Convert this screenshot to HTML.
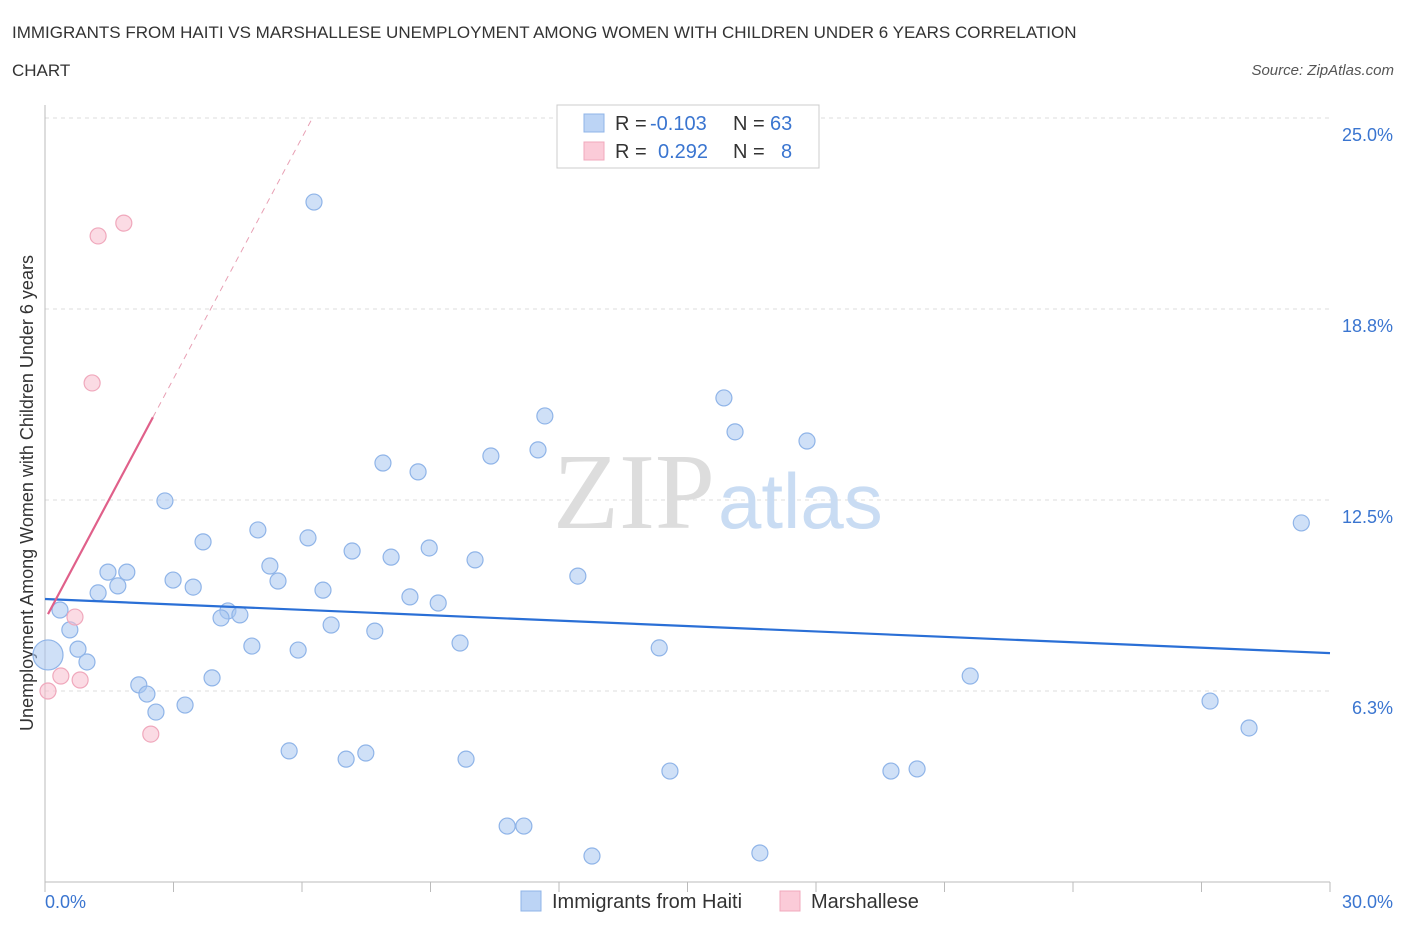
<!DOCTYPE html>
<html><head><meta charset="utf-8"><style>
body{margin:0;background:#fff;font-family:"Liberation Sans",sans-serif;}
#wrap{position:relative;width:1406px;height:930px;overflow:hidden;}
.t{position:absolute;color:#333;font-size:17px;}
</style></head><body>
<div id="wrap">
<div class="t" style="left:12px;top:23px;">IMMIGRANTS FROM HAITI VS MARSHALLESE UNEMPLOYMENT AMONG WOMEN WITH CHILDREN UNDER 6 YEARS CORRELATION</div>
<div class="t" style="left:12px;top:61px;">CHART</div>
<div class="t" style="right:12px;top:62px;font-size:15px;font-style:italic;color:#555;">Source: ZipAtlas.com</div>
<svg id="svg" width="1406" height="930" style="position:absolute;left:0;top:0"></svg>
</div>
<script>
const xTicks=[0,3,6,9,12,15,18,21,24,27,30];
const yTicks=[6.25,12.5,18.75,25];
const yTickLabels=["6.3%","12.5%","18.8%","25.0%"];
const haitiX=[6.28,11.67,15.85,16.11,17.79,11.51,10.41,7.89,8.71,2.80,29.33,4.97,3.69,6.14,8.97,7.17,8.08,10.04,1.47,1.91,5.25,12.44,2.99,3.46,5.44,1.24,1.70,6.49,8.52,9.18,0.35,4.27,4.55,4.11,6.68,7.70,0.58,9.69,4.83,5.91,14.34,0.77,0.07,0.98,3.90,21.60,2.19,2.38,3.27,2.59,27.20,28.11,5.70,7.49,7.03,9.83,14.59,19.75,20.36,10.79,11.18,12.77,16.69];
const haitiY=[22.25,15.25,15.84,14.73,14.43,14.14,13.94,13.71,13.42,12.47,11.75,11.52,11.13,11.26,10.93,10.83,10.63,10.54,10.14,10.14,10.34,10.01,9.88,9.65,9.85,9.46,9.69,9.55,9.33,9.13,8.90,8.87,8.74,8.64,8.41,8.21,8.25,7.82,7.72,7.59,7.66,7.62,7.43,7.20,6.68,6.74,6.45,6.15,5.79,5.56,5.92,5.04,4.29,4.22,4.02,4.02,3.63,3.63,3.70,1.83,1.83,0.85,0.95];
const marshX=[1.84,1.24,1.10,0.70,0.37,0.82,0.07,2.47];
const marshY=[21.56,21.14,16.33,8.67,6.74,6.61,6.25,4.84];
const haitiTrend=[9.26,7.49];
const marshIntercept=8.58, marshSlope=2.63;
const X=v=>45+v*(1285/30), Y=v=>882-v*30.56;
const svg=document.getElementById('svg');
function mk(tag,attrs,name){const e=document.createElementNS('http://www.w3.org/2000/svg',tag);for(const k in attrs)e.setAttribute(k,attrs[k]);


svg.appendChild(e);return e;}
yTicks.forEach((t,i)=>{mk('line',{x1:45,x2:1330,y1:Y(t),y2:Y(t),stroke:'#ddd','stroke-dasharray':'4,4'},'gridline');
const tx=mk('text',{x:1393,y:Y(t)+23,'text-anchor':'end',fill:'#3a75d0','font-size':18},'y-tick-label');tx.textContent=yTickLabels[i];});
mk('line',{x1:45,x2:1330,y1:Y(0),y2:Y(0),stroke:'#bbb'},'x-axis');
mk('line',{x1:45,x2:45,y1:105,y2:Y(0),stroke:'#bbb'},'y-axis');
xTicks.forEach(t=>mk('line',{x1:X(t),x2:X(t),y1:Y(0),y2:Y(0)+10,stroke:'#bbb'},'x-tick'));
let tl=mk('text',{x:45,y:908,fill:'#3a75d0','font-size':18},'x-min-label');tl.textContent='0.0%';
tl=mk('text',{x:1393,y:908,'text-anchor':'end',fill:'#3a75d0','font-size':18},'x-max-label');tl.textContent='30.0%';
tl=mk('text',{x:553,y:528,fill:'#ddd','font-size':108,'font-family':'Liberation Serif'},'watermark-zip');tl.textContent='ZIP';
tl=mk('text',{x:718,y:528,fill:'#c9dcf3','font-size':78},'watermark-atlas');tl.textContent='atlas';
tl=mk('text',{x:0,y:0,fill:'#333','font-size':18,transform:'translate(33,493) rotate(-90)','text-anchor':'middle'},'y-axis-title');tl.textContent='Unemployment Among Women with Children Under 6 years';
haitiX.forEach((x,i)=>mk('circle',{cx:X(x),cy:Y(haitiY[i]),r:i==42?15:8,fill:'rgba(168,199,240,0.55)',stroke:'#8fb4e8','stroke-width':1.2},'haiti-point'));
marshX.forEach((x,i)=>mk('circle',{cx:X(x),cy:Y(marshY[i]),r:8,fill:'rgba(248,190,205,0.55)',stroke:'#f0a8bc','stroke-width':1.2},'marshallese-point'));
mk('line',{x1:X(0),y1:Y(haitiTrend[0]),x2:X(30),y2:Y(haitiTrend[1]),stroke:'#2a6fd6','stroke-width':2.2},'haiti-trendline');
const xe=(25-marshIntercept)/marshSlope;
mk('line',{x1:X(0.07),y1:Y(marshIntercept+marshSlope*0.07),x2:X(2.52),y2:Y(marshIntercept+marshSlope*2.52),stroke:'#e0608a','stroke-width':2.2},'marshallese-trendline');
mk('line',{x1:X(2.52),y1:Y(marshIntercept+marshSlope*2.52),x2:X(xe),y2:Y(25),stroke:'#e8a0b4','stroke-width':1,'stroke-dasharray':'6,5'},'marshallese-trend-extension');
mk('rect',{x:557,y:105,width:262,height:63,fill:'#fff',stroke:'#ccc'},'legend-box');
mk('rect',{x:584,y:114,width:20,height:18,fill:'#bcd4f5',stroke:'#8fb4e8'},'legend-haiti-swatch');
mk('rect',{x:584,y:142,width:20,height:18,fill:'#fbcbd8',stroke:'#f0a8bc'},'legend-marsh-swatch');
function lt(x,y,s,c,n){const e=mk('text',{x:x,y:y,fill:c,'font-size':20},n);e.textContent=s;}
lt(615,130,'R =','#333','legend-r-label');lt(650,130,'-0.103','#3a75d0','legend-r-haiti');lt(733,130,'N =','#333','legend-n-label');lt(770,130,'63','#3a75d0','legend-n-haiti');
lt(615,158,'R =','#333','legend-r-label');lt(658,158,'0.292','#3a75d0','legend-r-marsh');lt(733,158,'N =','#333','legend-n-label');lt(781,158,'8','#3a75d0','legend-n-marsh');
mk('rect',{x:521,y:891,width:20,height:20,fill:'#bcd4f5',stroke:'#8fb4e8'},'bottom-legend-haiti-swatch');
lt(552,908,'Immigrants from Haiti','#333','bottom-legend-haiti');
mk('rect',{x:780,y:891,width:20,height:20,fill:'#fbcbd8',stroke:'#f0a8bc'},'bottom-legend-marsh-swatch');
lt(811,908,'Marshallese','#333','bottom-legend-marsh');
</script>
</body></html>
